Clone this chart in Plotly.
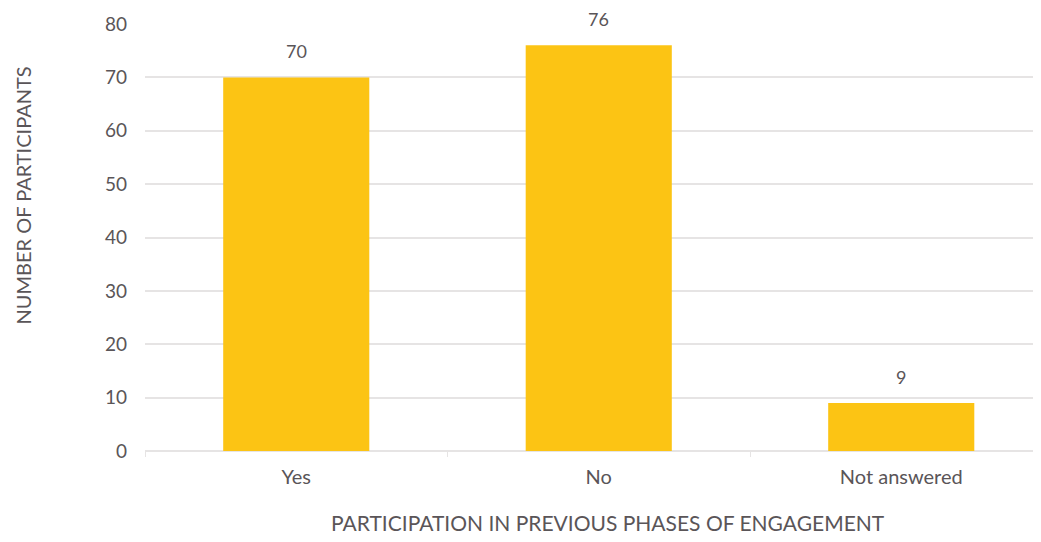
import plotly.graph_objects as go

categories = ["Yes", "No", "Not answered"]
values = [70, 76, 9]
y_ticks = [0, 10, 20, 30, 40, 50, 60, 70, 80]

bar_color = "#FCC414"
text_color = "#5a5558"
grid_color = "#e6e4e4"
font_family = "Lato, 'Open Sans', sans-serif"

fig = go.Figure()
fig.add_trace(go.Bar(
    x=categories, y=values, marker=dict(color=bar_color, line=dict(width=0)),
    width=0.483, hoverinfo="skip",
))

for c, v in zip(categories, values):
    fig.add_annotation(x=c, y=v, text=str(v), showarrow=False, yshift=26,
                       xanchor="center", yanchor="middle",
                       font=dict(size=18, color=text_color, family=font_family))

fig.add_annotation(xref="paper", yref="paper", x=0.0, y=0.5, text="NUMBER OF PARTICIPANTS",
                   showarrow=False, textangle=-90, xshift=-123, yshift=42,
                   xanchor="center", yanchor="middle",
                   font=dict(size=20, color=text_color, family=font_family))
fig.add_annotation(xref="paper", yref="paper", x=0.5, y=0, text="PARTICIPATION IN PREVIOUS PHASES OF ENGAGEMENT",
                   showarrow=False, yshift=-71, xshift=15,
                   xanchor="center", yanchor="middle",
                   font=dict(size=21, color=text_color, family=font_family))

fig.update_layout(
    width=1033, height=526,
    margin=dict(l=137, r=0, t=16, b=83),
    paper_bgcolor="white", plot_bgcolor="white",
    showlegend=False,
    font=dict(family=font_family, color=text_color, size=19),
    xaxis=dict(range=[-0.5, 2.462], showgrid=False, showline=False, zeroline=False,
               ticks="outside", tickson="boundaries", ticklen=5, tickcolor=grid_color,
               ticklabelstandoff=12,
               tickfont=dict(size=20, color=text_color), fixedrange=True),
    yaxis=dict(range=[0, 80], tickvals=y_ticks, showgrid=True, gridcolor=grid_color, gridwidth=2,
               zeroline=True, zerolinecolor=grid_color, zerolinewidth=2, showline=False,
               ticks="", ticklabelstandoff=17,
               tickfont=dict(size=19, color=text_color), fixedrange=True),
    bargap=0.5,
)

fig.write_html("out.html")
